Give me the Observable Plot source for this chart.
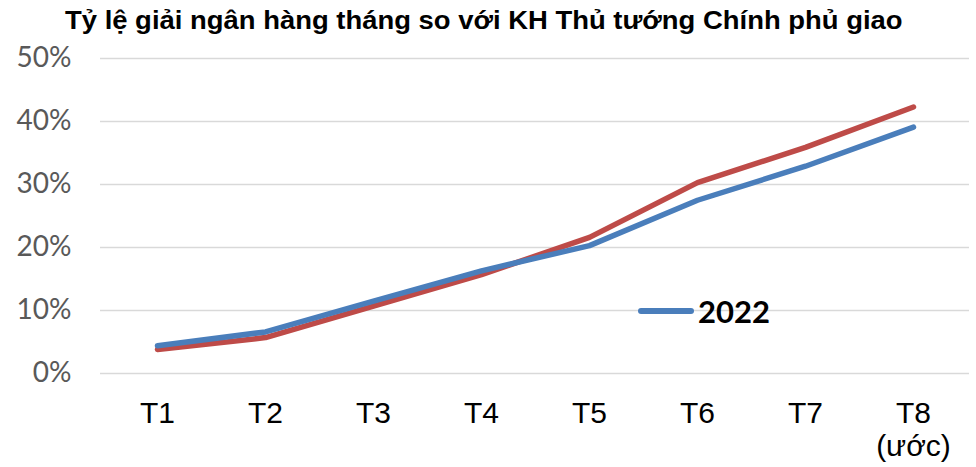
<!DOCTYPE html>
<html>
<head>
<meta charset="utf-8">
<script src="https://cdn.jsdelivr.net/npm/d3@7"></script>
<script src="https://cdn.jsdelivr.net/npm/@observablehq/plot@0.6"></script>
<style>
  html, body { margin: 0; padding: 0; background: #fff; }
  #wrap { position: relative; width: 976px; height: 467px; overflow: hidden; }
  #title { height: 40px; line-height: 40px; text-align: center; font-family: "Liberation Sans", Arial, sans-serif; font-weight: bold; font-size: 26px; color: #000; white-space: nowrap; padding-right: 8px; transform: scaleX(1.055); transform-origin: 488px 50%; }
  #legend { position: absolute; left: 638px; top: 292px; display: flex; align-items: center; font-family: Lato, "Open Sans", sans-serif; font-weight: bold; font-size: 31px; color: #000; }
  #legend .sw { width: 56px; height: 6px; border-radius: 3px; background: #4A7EBB; margin-right: 4px; }
</style>
</head>
<body>
<div id="wrap">
  <div id="title"></div>
  <div id="chart"></div>
  <div id="legend"><span class="sw"></span><span id="legtext"></span></div>
</div>
<script>
const title = "Tỷ lệ giải ngân hàng tháng so với KH Thủ tướng Chính phủ giao";
const months = ["T1", "T2", "T3", "T4", "T5", "T6", "T7", "T8"];
const monthLabels = ["T1", "T2", "T3", "T4", "T5", "T6", "T7", "T8\n(ước)"];
const series2022 = [4.4, 6.6, 11.5, 16.3, 20.3, 27.5, 32.9, 39.1];
const seriesOther = [3.8, 5.7, 10.7, 15.7, 21.6, 30.3, 35.9, 42.3];
const yTicks = [0, 10, 20, 30, 40, 50];
const legendLabel = "2022";

document.getElementById("title").textContent = title;
document.getElementById("legtext").textContent = legendLabel;

const rows = [];
months.forEach((m, i) => rows.push({month: m, value: seriesOther[i], series: "other"}));
months.forEach((m, i) => rows.push({month: m, value: series2022[i], series: "2022"}));

const chart = Plot.plot({
  width: 976,
  height: 427,
  marginLeft: 100,
  marginRight: 7,
  marginTop: 18,
  marginBottom: 94,
  style: {background: "transparent"},
  x: {type: "point", domain: months, padding: 0.5},
  y: {domain: [0, 50]},
  color: {domain: ["2022", "other"], range: ["#4A7EBB", "#BE4B48"]},
  marks: [
    Plot.gridY(yTicks, {stroke: "#d9d9d9", strokeOpacity: 1, strokeWidth: 1.5}),
    Plot.axisY(yTicks, {
      tickSize: 0, tickPadding: 29, label: null,
      tickFormat: d => d + "%",
      fontSize: 28, fill: "#595959",
      fontFamily: "Lato, 'Open Sans', sans-serif"
    }),
    Plot.axisX({
      tickSize: 0, tickPadding: 26, label: null,
      tickFormat: (d, i) => monthLabels[months.indexOf(d)],
      fontSize: 30, fill: "#000", lineHeight: 1.1,
      fontFamily: "'Liberation Sans', Arial, sans-serif"
    }),
    Plot.line(rows, {
      x: "month", y: "value", z: "series", stroke: "series",
      strokeWidth: 5.5, strokeLinecap: "round", strokeLinejoin: "round"
    })
  ]
});
document.getElementById("chart").appendChild(chart);
</script>
</body>
</html>
